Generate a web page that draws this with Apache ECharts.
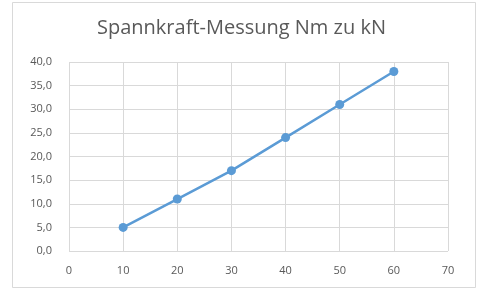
<!DOCTYPE html>
<html><head><meta charset="utf-8">
<script src="https://cdn.jsdelivr.net/npm/echarts@6/dist/echarts.min.js"></script>
<style>html,body{margin:0;padding:0;background:#fff;}#c{width:483px;height:290px;}</style>
</head><body><div id="c"></div>
<script>
const titleText = 'Spannkraft-Messung Nm zu kN';
const xValues = [10, 20, 30, 40, 50, 60];
const yValues = [5, 11, 17, 24, 31, 38];
const chart = echarts.init(document.getElementById('c'), null, {renderer: 'canvas'});
const fmt = v => v.toFixed(1).replace('.', ',');
chart.setOption({
  animation: false,
  backgroundColor: '#fff',
  graphic: [{type: 'rect', shape: {x: 12.5, y: 2.5, width: 463, height: 285}, style: {fill: 'none', stroke: '#d9d9d9', lineWidth: 1}, silent: true}],
  title: {text: titleText, left: 'center', top: 13, textStyle: {fontFamily: 'Open Sans', fontSize: 20, fontWeight: 'normal', color: '#595959'}},
  grid: {left: 69, right: 35, top: 62, bottom: 39, containLabel: false},
  xAxis: {type: 'value', min: 0, max: 70, interval: 10,
    axisLine: {show: false}, axisTick: {show: false},
    splitLine: {show: true, lineStyle: {color: '#d9d9d9', width: 1}},
    axisLabel: {color: '#595959', fontFamily: 'Open Sans', fontSize: 11, margin: 14}},
  yAxis: {type: 'value', min: 0, max: 40, interval: 5,
    axisLine: {show: false}, axisTick: {show: false},
    splitLine: {show: true, lineStyle: {color: '#d9d9d9', width: 1}},
    axisLabel: {color: '#595959', fontFamily: 'Open Sans', fontSize: 11, margin: 17, formatter: fmt}},
  series: [{type: 'line', data: xValues.map((x, i) => [x, yValues[i]]),
    symbol: 'circle', symbolSize: 9,
    lineStyle: {color: '#5b9bd5', width: 2.5},
    itemStyle: {color: '#5b9bd5'}}]
});
</script></body></html>
